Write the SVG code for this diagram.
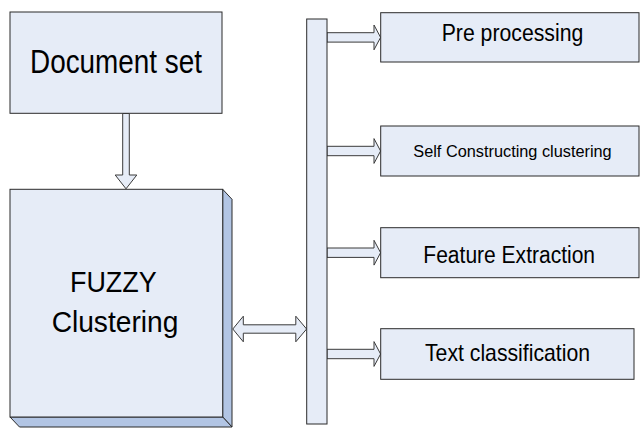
<svg xmlns="http://www.w3.org/2000/svg" width="640" height="428" viewBox="0 0 640 428">
  <style>
    .box { fill: #e6ecf7; stroke: #2b2b2b; stroke-width: 1; }
    .face { fill: #b2c5e4; stroke: #2b2b2b; stroke-width: 1; }
    .arrow { fill: #e6ecf7; stroke: #3a3a3a; stroke-width: 1; stroke-linejoin: miter; }
    .lbl { font-family: "Liberation Sans", Arial, sans-serif; fill: #000; text-anchor: middle; }
  </style>
  <rect width="640" height="428" fill="#ffffff"/>

  <!-- connectors -->
  <g id="connectors">
    <!-- Document set -> FUZZY Clustering -->
    <polygon class="arrow" points="122.7,113.5 129.3,113.5 129.3,175 136.8,175 126,188.8 115.2,175 122.7,175"/>
    <!-- FUZZY Clustering <-> bus -->
    <polygon class="arrow" points="232.8,329 243.3,316.2 243.3,324.8 295.8,324.8 295.8,316.2 306.6,329 295.8,341.8 295.8,333.2 243.3,333.2 243.3,341.8"/>
    <!-- bus -> steps -->
    <polygon class="arrow" points="327,32.7 374,32.7 374,25 380.6,37.4 374,49.8 374,42.1 327,42.1"/>
    <polygon class="arrow" points="327,146.3 374,146.3 374,138.6 380.6,151 374,163.4 374,155.7 327,155.7"/>
    <polygon class="arrow" points="327,248 374,248 374,240.3 380.6,252.7 374,265.1 374,257.4 327,257.4"/>
    <polygon class="arrow" points="327,349.3 374,349.3 374,341.6 380.6,354 374,366.4 374,358.7 327,358.7"/>
  </g>

  <g id="document-set">
    <rect class="box" x="10" y="12" width="212" height="101.3"/>
    <text class="lbl" x="116" y="72.7" font-size="34" textLength="172" lengthAdjust="spacingAndGlyphs">Document set</text>
  </g>

  <g id="fuzzy-clustering">
    <polygon class="face" points="222.7,189.3 232,199.3 232,427 222.7,417"/>
    <polygon class="face" points="10,417 222.7,417 232,427 19.5,427"/>
    <rect class="box" x="10" y="189.3" width="212.7" height="227.7"/>
    <text class="lbl" x="113.3" y="291.7" font-size="30" textLength="86.7" lengthAdjust="spacingAndGlyphs">FUZZY</text>
    <text class="lbl" x="115" y="331.5" font-size="30" textLength="126.7" lengthAdjust="spacingAndGlyphs">Clustering</text>
  </g>

  <g id="bus">
    <rect class="box" x="306.7" y="19" width="20.3" height="405"/>
  </g>

  <g id="pre-processing">
    <rect class="box" x="380.7" y="12.7" width="258.3" height="49.3"/>
    <text class="lbl" x="512.5" y="40.7" font-size="23" textLength="141.6" lengthAdjust="spacingAndGlyphs">Pre processing</text>
  </g>

  <g id="self-constructing-clustering">
    <rect class="box" x="380.7" y="126" width="258.3" height="50"/>
    <text class="lbl" x="512.5" y="157.3" font-size="16" textLength="198.4" lengthAdjust="spacingAndGlyphs">Self Constructing clustering</text>
  </g>

  <g id="feature-extraction">
    <rect class="box" x="380.7" y="227.7" width="258.3" height="50"/>
    <text class="lbl" x="509.2" y="262.7" font-size="23" textLength="171.7" lengthAdjust="spacingAndGlyphs">Feature Extraction</text>
  </g>

  <g id="text-classification">
    <rect class="box" x="380.7" y="328.7" width="253.3" height="50.6"/>
    <text class="lbl" x="507.5" y="360.7" font-size="24" textLength="165" lengthAdjust="spacingAndGlyphs">Text classification</text>
  </g>
</svg>
